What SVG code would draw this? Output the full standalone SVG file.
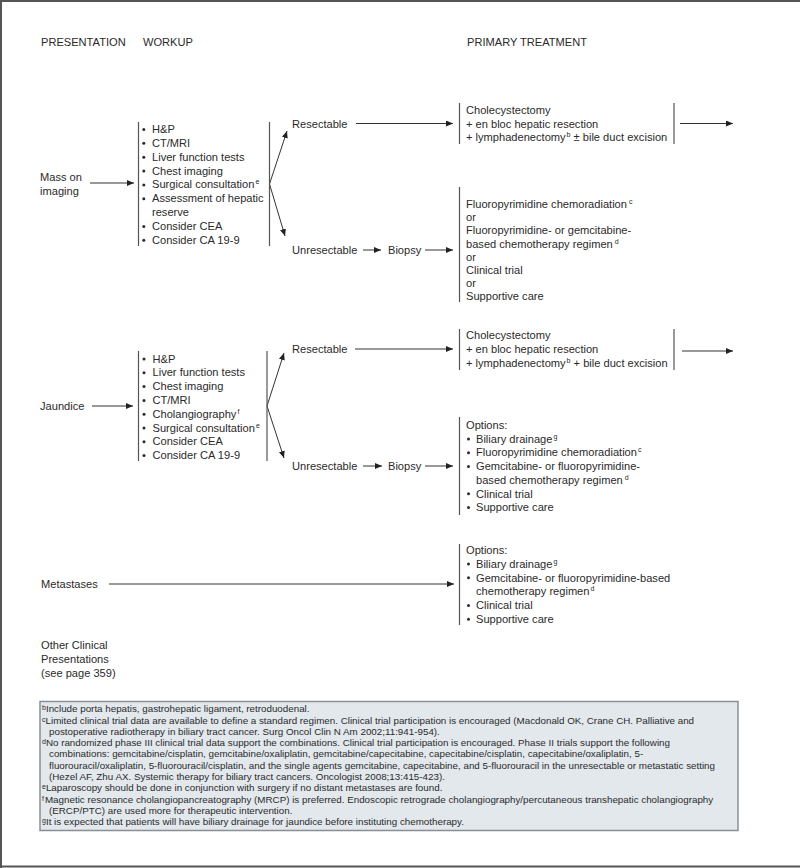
<svg xmlns="http://www.w3.org/2000/svg" width="800" height="868" viewBox="0 0 800 868">
<style>
text{font-family:"Liberation Sans",Arial,sans-serif;font-size:11.1px;fill:#2a2a2a}
.fn{font-size:9.8px}
.sup{font-size:7px}
.fsup{font-size:7px}
.br{stroke:#555;stroke-width:1.2;fill:none}
.cn{stroke:#333;stroke-width:1;fill:none}
.bul{fill:#2a2a2a}
</style>
<defs>
<marker id="ah" markerUnits="userSpaceOnUse" markerWidth="8" markerHeight="7" refX="7" refY="3" orient="auto">
<path d="M0,0 L7,3 L0,6 z" fill="#222"/>
</marker>
</defs>
<rect x="0" y="0" width="800" height="868" fill="#fff"/>
<g id="frame" stroke="#555" stroke-width="2" fill="none">
<line x1="0" y1="1" x2="800" y2="1"/>
<line x1="1" y1="0" x2="1" y2="868"/>
<line x1="0" y1="866.5" x2="800" y2="866.5"/>
</g>
<g id="headers">
<text x="41" y="46">PRESENTATION</text>
<text x="143" y="46">WORKUP</text>
<text x="467" y="46">PRIMARY TREATMENT</text>
</g>

<g id="connectors">
<line class="cn" x1="90" y1="183" x2="134" y2="183" marker-end="url(#ah)"/>
<line class="cn" x1="269.5" y1="184" x2="287" y2="131" marker-end="url(#ah)"/>
<line class="cn" x1="269.5" y1="184" x2="285" y2="236" marker-end="url(#ah)"/>
<line class="cn" x1="356" y1="123.5" x2="453" y2="123.5" marker-end="url(#ah)"/>
<line class="cn" x1="363" y1="250" x2="381" y2="250" marker-end="url(#ah)"/>
<line class="cn" x1="425" y1="250" x2="453" y2="250" marker-end="url(#ah)"/>
<line class="cn" x1="680" y1="123.5" x2="733" y2="123.5" marker-end="url(#ah)"/>

<line class="cn" x1="92" y1="406" x2="133" y2="406" marker-end="url(#ah)"/>
<line class="cn" x1="267" y1="406" x2="284" y2="353" marker-end="url(#ah)"/>
<line class="cn" x1="267" y1="406" x2="284" y2="458" marker-end="url(#ah)"/>
<line class="cn" x1="355" y1="349" x2="453" y2="349" marker-end="url(#ah)"/>
<line class="cn" x1="363" y1="466" x2="382" y2="466" marker-end="url(#ah)"/>
<line class="cn" x1="425" y1="466" x2="453" y2="466" marker-end="url(#ah)"/>
<line class="cn" x1="682" y1="351" x2="733" y2="351" marker-end="url(#ah)"/>

<line class="cn" x1="109" y1="584" x2="454" y2="584" marker-end="url(#ah)"/>
</g>

<g id="mass-on-imaging">
<text x="40" y="181">Mass on</text>
<text x="40" y="195">imaging</text>
</g>
<g id="workup-mass">
<line class="br" x1="138.5" y1="122" x2="138.5" y2="246"/>
<line class="br" x1="269.5" y1="122" x2="269.5" y2="246"/>
<g class="bul">
<circle cx="143.8" cy="129.5" r="1.5"/>
<circle cx="143.8" cy="143.3" r="1.5"/>
<circle cx="143.8" cy="157.2" r="1.5"/>
<circle cx="143.8" cy="171" r="1.5"/>
<circle cx="143.8" cy="184.9" r="1.5"/>
<circle cx="143.8" cy="198.7" r="1.5"/>
<circle cx="143.8" cy="226.4" r="1.5"/>
<circle cx="143.8" cy="240.3" r="1.5"/>
</g>
<text x="152" y="133">H&amp;P</text>
<text x="152" y="146.8">CT/MRI</text>
<text x="152" y="160.7">Liver function tests</text>
<text x="152" y="174.5">Chest imaging</text>
<text x="152" y="188.4">Surgical consultation<tspan class="sup" dy="-4" dx="1">e</tspan></text>
<text x="152" y="202.2">Assessment of hepatic</text>
<text x="152" y="216.1">reserve</text>
<text x="152" y="229.9">Consider CEA</text>
<text x="152" y="243.8">Consider CA 19-9</text>
</g>
<g id="resectable-1">
<text x="292" y="127.5">Resectable</text>
</g>
<g id="unresectable-1">
<text x="292" y="254">Unresectable</text>
</g>
<g id="biopsy-1">
<text x="388" y="254">Biopsy</text>
</g>
<g id="treatment-resectable-1">
<line class="br" x1="459.5" y1="103" x2="459.5" y2="144"/>
<line class="br" x1="674" y1="103" x2="674" y2="144"/>
<text x="466" y="114">Cholecystectomy</text>
<text x="466" y="127.5">+ en bloc hepatic resection</text>
<text x="466" y="141">+ lymphadenectomy<tspan class="sup" dy="-4" dx="1">b</tspan><tspan dy="4"> ± bile duct excision</tspan></text>
</g>
<g id="treatment-unresectable-1">
<line class="br" x1="459.5" y1="187" x2="459.5" y2="302"/>
<text x="466" y="208">Fluoropyrimidine chemoradiation<tspan class="sup" dy="-4" dx="2">c</tspan></text>
<text x="466" y="221.2">or</text>
<text x="466" y="234.4">Fluoropyrimidine- or gemcitabine-</text>
<text x="466" y="247.6">based chemotherapy regimen<tspan class="sup" dy="-4" dx="2">d</tspan></text>
<text x="466" y="260.8">or</text>
<text x="466" y="274">Clinical trial</text>
<text x="466" y="287.2">or</text>
<text x="466" y="300.4">Supportive care</text>
</g>

<g id="jaundice">
<text x="40" y="410">Jaundice</text>
</g>
<g id="workup-jaundice">
<line class="br" x1="138.5" y1="351" x2="138.5" y2="461"/>
<line class="br" x1="267" y1="351" x2="267" y2="461"/>
<g class="bul">
<circle cx="144" cy="359" r="1.5"/>
<circle cx="144" cy="372.8" r="1.5"/>
<circle cx="144" cy="386.6" r="1.5"/>
<circle cx="144" cy="400.4" r="1.5"/>
<circle cx="144" cy="414.2" r="1.5"/>
<circle cx="144" cy="428" r="1.5"/>
<circle cx="144" cy="441.8" r="1.5"/>
<circle cx="144" cy="455.6" r="1.5"/>
</g>
<text x="152.5" y="362.5">H&amp;P</text>
<text x="152.5" y="376.3">Liver function tests</text>
<text x="152.5" y="390.1">Chest imaging</text>
<text x="152.5" y="403.9">CT/MRI</text>
<text x="152.5" y="417.7">Cholangiography<tspan class="sup" dy="-4" dx="1">f</tspan></text>
<text x="152.5" y="431.5">Surgical consultation<tspan class="sup" dy="-4" dx="1">e</tspan></text>
<text x="152.5" y="445.3">Consider CEA</text>
<text x="152.5" y="459.1">Consider CA 19-9</text>
</g>
<g id="resectable-2">
<text x="292" y="353">Resectable</text>
</g>
<g id="unresectable-2">
<text x="292" y="470">Unresectable</text>
</g>
<g id="biopsy-2">
<text x="388" y="470">Biopsy</text>
</g>
<g id="treatment-resectable-2">
<line class="br" x1="459.5" y1="329" x2="459.5" y2="370"/>
<line class="br" x1="674" y1="329" x2="674" y2="370"/>
<text x="466" y="339">Cholecystectomy</text>
<text x="466" y="353">+ en bloc hepatic resection</text>
<text x="466" y="367">+ lymphadenectomy<tspan class="sup" dy="-4" dx="1">b</tspan><tspan dy="4"> + bile duct excision</tspan></text>
</g>
<g id="treatment-unresectable-2">
<line class="br" x1="459.5" y1="417" x2="459.5" y2="515"/>
<g class="bul">
<circle cx="468.5" cy="439" r="1.5"/>
<circle cx="468.5" cy="452.7" r="1.5"/>
<circle cx="468.5" cy="466.4" r="1.5"/>
<circle cx="468.5" cy="493.8" r="1.5"/>
<circle cx="468.5" cy="507.5" r="1.5"/>
</g>
<text x="466" y="429">Options:</text>
<text x="476" y="442.7">Biliary drainage<tspan class="sup" dy="-4" dx="1">g</tspan></text>
<text x="476" y="456.4">Fluoropyrimidine chemoradiation<tspan class="sup" dy="-4" dx="1">c</tspan></text>
<text x="476" y="470.1">Gemcitabine- or fluoropyrimidine-</text>
<text x="476" y="483.8">based chemotherapy regimen<tspan class="sup" dy="-4" dx="2">d</tspan></text>
<text x="476" y="497.5">Clinical trial</text>
<text x="476" y="511.2">Supportive care</text>
</g>

<g id="metastases">
<text x="41" y="588">Metastases</text>
</g>
<g id="treatment-metastases">
<line class="br" x1="459.5" y1="544" x2="459.5" y2="625"/>
<g class="bul">
<circle cx="468.5" cy="564" r="1.5"/>
<circle cx="468.5" cy="577.8" r="1.5"/>
<circle cx="468.5" cy="605.4" r="1.5"/>
<circle cx="468.5" cy="619.2" r="1.5"/>
</g>
<text x="466" y="554">Options:</text>
<text x="476" y="567.8">Biliary drainage<tspan class="sup" dy="-4" dx="1">g</tspan></text>
<text x="476" y="581.6">Gemcitabine- or fluoropyrimidine-based</text>
<text x="476" y="595.4">chemotherapy regimen<tspan class="sup" dy="-4" dx="1">d</tspan></text>
<text x="476" y="609.2">Clinical trial</text>
<text x="476" y="623">Supportive care</text>
</g>

<g id="other-clinical">
<text x="41" y="649">Other Clinical</text>
<text x="41" y="663">Presentations</text>
<text x="41" y="677">(see page 359)</text>
</g>

<g id="footnotes">
<rect x="40" y="701.5" width="698" height="129" fill="#e3e8ed" stroke="#8a8f94" stroke-width="1.5"/>
<text class="fn" x="42" y="712"><tspan class="fsup" dy="-2">b</tspan><tspan dy="2">Include porta hepatis, gastrohepatic ligament, retroduodenal.</tspan></text>
<text class="fn" x="42" y="723.5"><tspan class="fsup" dy="-2">c</tspan><tspan dy="2">Limited clinical trial data are available to define a standard regimen. Clinical trial participation is encouraged (Macdonald OK, Crane CH. Palliative and</tspan></text>
<text class="fn" x="49" y="734.8">postoperative radiotherapy in biliary tract cancer. Surg Oncol Clin N Am 2002;11:941-954).</text>
<text class="fn" x="42" y="746.1"><tspan class="fsup" dy="-2">d</tspan><tspan dy="2">No randomized phase III clinical trial data support the combinations. Clinical trial participation is encouraged. Phase II trials support the following</tspan></text>
<text class="fn" x="49" y="757.4">combinations: gemcitabine/cisplatin, gemcitabine/oxaliplatin, gemcitabine/capecitabine, capecitabine/cisplatin, capecitabine/oxaliplatin, 5-</text>
<text class="fn" x="49" y="768.7">fluorouracil/oxaliplatin, 5-fluorouracil/cisplatin, and the single agents gemcitabine, capecitabine, and 5-fluorouracil in the unresectable or metastatic setting</text>
<text class="fn" x="49" y="780">(Hezel AF, Zhu AX. Systemic therapy for biliary tract cancers. Oncologist 2008;13:415-423).</text>
<text class="fn" x="42" y="791.3"><tspan class="fsup" dy="-2">e</tspan><tspan dy="2">Laparoscopy should be done in conjunction with surgery if no distant metastases are found.</tspan></text>
<text class="fn" x="42" y="802.6"><tspan class="fsup" dy="-2">f</tspan><tspan dy="2" dx="1">Magnetic resonance cholangiopancreatography (MRCP) is preferred. Endoscopic retrograde cholangiography/percutaneous transhepatic cholangiography</tspan></text>
<text class="fn" x="49" y="813.9">(ERCP/PTC) are used more for therapeutic intervention.</text>
<text class="fn" x="42" y="825.2"><tspan class="fsup" dy="-2">g</tspan><tspan dy="2">It is expected that patients will have biliary drainage for jaundice before instituting chemotherapy.</tspan></text>
</g>
</svg>
